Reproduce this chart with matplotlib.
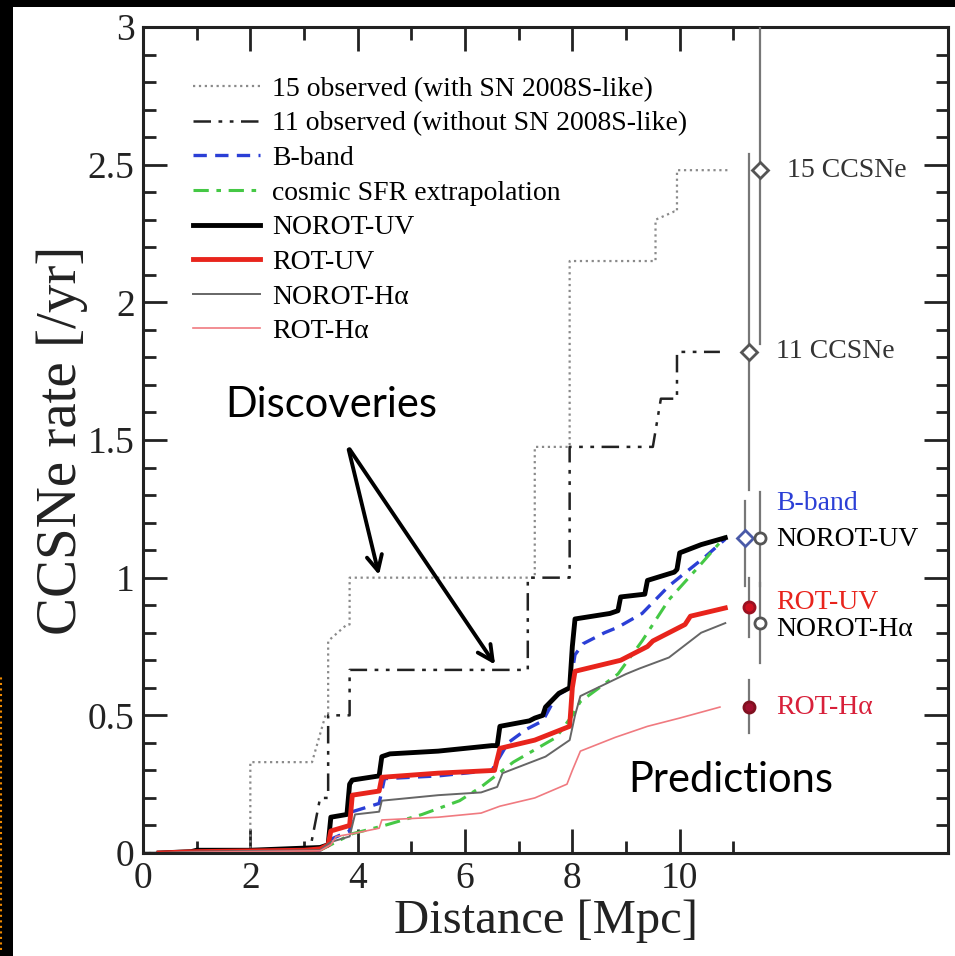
#CCSNe rate vs distance: observed counts and model predictions
import matplotlib
matplotlib.use('Agg')
import matplotlib.pyplot as plt
from matplotlib.patches import Rectangle
from matplotlib.lines import Line2D

serif = 'Liberation Serif'
plt.rcParams['font.family'] = [serif, 'DejaVu Serif']

#observed cumulative rates
obs15_x = [0, 2.0, 2.0, 3.15, 3.4, 3.45, 3.45, 3.8, 3.85, 3.85, 7.3, 7.3, 7.95, 7.95,
           9.55, 9.55, 9.9, 9.95, 9.95, 10.9]
obs15_y = [0, 0, 0.33, 0.33, 0.5, 0.5, 0.77, 0.83, 0.83, 1.0, 1.0, 1.475, 1.475, 2.15,
           2.15, 2.3, 2.33, 2.33, 2.48, 2.48]
obs11_x = [0, 3.1, 3.3, 3.45, 3.45, 3.75, 3.85, 3.85, 7.17, 7.17, 7.95, 7.95, 9.5, 9.65,
           9.95, 9.95, 10.75]
obs11_y = [0, 0, 0.2, 0.2, 0.5, 0.5, 0.5, 0.665, 0.665, 1.0, 1.0, 1.475, 1.475, 1.65,
           1.65, 1.82, 1.82]

#model predictions
bband_x = [0.3, 1.0, 3.3, 3.5, 3.85, 3.9, 4.4, 4.5, 5.5, 6.5, 6.8, 7.15, 7.45, 7.7, 7.95,
           8.05, 8.2, 8.6, 8.85, 9.3, 9.8, 10.5, 10.85]
bband_y = [0, 0.005, 0.01, 0.05, 0.08, 0.15, 0.18, 0.27, 0.28, 0.3, 0.4, 0.45, 0.48, 0.57,
           0.6, 0.72, 0.76, 0.8, 0.82, 0.87, 0.97, 1.08, 1.14]
sfr_x = [3.3, 3.9, 4.5, 5.2, 5.9, 6.3, 6.9, 7.7, 8.0, 8.15, 8.85, 9.3, 9.8, 10.4, 10.85]
sfr_y = [0.01, 0.07, 0.1, 0.14, 0.19, 0.24, 0.33, 0.42, 0.5, 0.55, 0.65, 0.77, 0.92, 1.05, 1.15]
norot_uv_x = [0.3, 0.9, 1.0, 2.0, 3.3, 3.45, 3.5, 3.8, 3.85, 3.9, 4.4, 4.45, 4.6, 5.5, 6.5,
              6.6, 6.65, 7.2, 7.3, 7.45, 7.5, 7.75, 7.95, 8.0, 8.05, 8.7, 8.85, 8.9, 9.35,
              9.4, 9.9, 9.95, 10.0, 10.4, 10.85]
norot_uv_y = [0, 0.005, 0.01, 0.01, 0.02, 0.03, 0.13, 0.14, 0.25, 0.265, 0.28, 0.35, 0.36,
              0.37, 0.39, 0.39, 0.46, 0.48, 0.49, 0.5, 0.53, 0.58, 0.6, 0.75, 0.85, 0.87,
              0.88, 0.93, 0.94, 0.99, 1.02, 1.03, 1.09, 1.12, 1.145]
rot_uv_x = [0.3, 1.0, 3.0, 3.3, 3.45, 3.5, 3.85, 3.9, 4.4, 4.45, 5.5, 6.55, 6.65, 7.3, 7.95,
            8.0, 8.05, 8.9, 9.4, 9.5, 10.1, 10.2, 10.85]
rot_uv_y = [0, 0.005, 0.01, 0.015, 0.03, 0.08, 0.1, 0.21, 0.225, 0.275, 0.29, 0.3, 0.38,
            0.41, 0.46, 0.6, 0.66, 0.7, 0.75, 0.77, 0.83, 0.86, 0.89]
norot_ha_x = [0.3, 1.0, 3.3, 3.5, 3.85, 3.95, 4.4, 4.45, 5.5, 6.3, 6.6, 6.7, 7.5, 7.95, 8.05,
              8.15, 9.0, 9.25, 9.8, 10.4, 10.85]
norot_ha_y = [0, 0.005, 0.01, 0.04, 0.06, 0.14, 0.15, 0.19, 0.21, 0.22, 0.24, 0.29, 0.35,
              0.41, 0.5, 0.57, 0.65, 0.67, 0.71, 0.8, 0.835]
rot_ha_x = [0.3, 1.0, 3.3, 3.5, 3.6, 3.9, 4.4, 4.45, 5.5, 6.3, 6.65, 7.3, 7.9, 8.0, 8.15,
            8.8, 9.4, 10.0, 10.75]
rot_ha_y = [0, 0.003, 0.008, 0.03, 0.06, 0.07, 0.09, 0.12, 0.13, 0.145, 0.17, 0.2, 0.25,
            0.3, 0.37, 0.42, 0.46, 0.49, 0.53]

#integrated rates with error bars
pt_names = ['15 CCSNe', '11 CCSNe', 'B-band', 'NOROT-UV', 'ROT-UV', 'NOROT-Hα', 'ROT-Hα']
pt_x = [11.5, 11.3, 11.22, 11.5, 11.3, 11.5, 11.3]
pt_y = [2.48, 1.82, 1.145, 1.145, 0.895, 0.835, 0.53]
pt_lo = [1.85, 1.32, 0.97, 0.97, 0.785, 0.69, 0.435]
pt_hi = [3.1, 2.54, 1.28, 1.31, 1.0, 0.98, 0.63]
pt_label_y = [2.48, 1.82, 1.27, 1.14, 0.91, 0.81, 0.53]

fig = plt.figure(figsize=(9.55, 9.56), dpi=100, facecolor='black')
fig.patches.append(Rectangle((13/955, 0), 1, 1 - 7/956, transform=fig.transFigure,
                             facecolor='white', edgecolor='none', zorder=-10))
fig.add_artist(Line2D([0.001, 0.001], [1 - 950/956, 1 - 675/956], color='#f08a00',
                      lw=1.5, ls=':', transform=fig.transFigure))
ax = fig.add_axes([143/955, 1 - 853/956, 805/955, 826/956])
ax.set_facecolor('white')

ax.plot(obs15_x, obs15_y, color='#8a8a8a', lw=1.6, ls=':', label='15 observed (with SN 2008S-like)')
ax.plot(obs11_x, obs11_y, color='#222222', lw=1.8, dashes=(7, 3, 1.5, 3, 1.5, 3),
        label='11 observed (without SN 2008S-like)')
ax.plot(bband_x, bband_y, color='#2b3fd6', lw=2.4, dashes=(4, 2.5), label='B-band')
ax.plot(sfr_x, sfr_y, color='#45c845', lw=2.2, dashes=(5, 2.5, 1.5, 2.5), label='cosmic SFR extrapolation')
ax.plot(norot_uv_x, norot_uv_y, color='black', lw=3.5, label='NOROT-UV')
ax.plot(rot_uv_x, rot_uv_y, color='#e8241c', lw=3.5, label='ROT-UV')
ax.plot(norot_ha_x, norot_ha_y, color='#666666', lw=1.4, label='NOROT-Hα')
ax.plot(rot_ha_x, rot_ha_y, color='#f07a80', lw=1.2, label='ROT-Hα')

#points
styles = [('D', 'white', '#555555'), ('D', 'white', '#555555'), ('D', 'white', '#4a5aa8'),
          ('o', 'white', '#555555'), ('o', '#d01020', '#9a1020'), ('o', 'white', '#555555'),
          ('o', '#a01030', '#801020')]
label_cols = ['#333333', '#333333', '#2b3fd6', 'black', '#e8241c', 'black', '#d8203a']
for i in range(len(pt_x)):
    ax.plot([pt_x[i], pt_x[i]], [pt_lo[i], pt_hi[i]], color='#777777', lw=1.6, zorder=4)
    m, fc, ec = styles[i]
    ax.plot(pt_x[i], pt_y[i], marker=m, ms=8, mfc=fc, mec=ec, mew=2, ls='none', zorder=5)
    ax.text(11.8 if i else 12.0, pt_label_y[i], pt_names[i], color=label_cols[i],
            fontsize=20, va='center', ha='left')

leg = ax.legend(loc='upper left', bbox_to_anchor=(0.045, 0.957), frameon=False, fontsize=20,
                handlelength=2.4, handletextpad=0.45, labelspacing=0.33, borderpad=0)

#annotations
ax.text(3.5, 1.627, 'Discoveries', family='Lato', fontsize=30, ha='center', va='center')
ax.text(10.95, 0.265, 'Predictions', family='Lato', fontsize=30, ha='center', va='center')
for tx, ty in [(4.41, 1.0), (6.59, 0.676)]:
    ax.annotate('', xy=(tx, ty), xytext=(3.82, 1.475),
                arrowprops=dict(arrowstyle='->, head_length=1.1, head_width=0.55', lw=2.8, color='black'))

ax.set_xlim(0, 15)
ax.set_ylim(0, 3)
ax.set_xticks([0, 2, 4, 6, 8, 10])
ax.set_xticks([1, 3, 5, 7, 9, 11], minor=True)
ax.set_yticks([0, 0.5, 1, 1.5, 2, 2.5, 3])
ax.set_yticklabels(['0', '0.5', '1', '1.5', '2', '2.5', '3'])
ax.set_yticks([i / 10 for i in range(31)], minor=True)
ax.tick_params(which='both', direction='in', top=True, right=True, width=2, labelsize=27, colors='#222222')
ax.tick_params(which='major', length=17, pad=6)
ax.tick_params(which='minor', length=9)
for s in ax.spines.values():
    s.set_linewidth(2.2)
    s.set_color('#222222')
ax.set_xlabel('Distance [Mpc]', fontsize=35, labelpad=2, color='#222222')
ax.set_ylabel('CCSNe rate [/yr]', fontsize=41, labelpad=0, color='#222222')

fig.savefig('out.png', dpi=100, facecolor=fig.get_facecolor())
